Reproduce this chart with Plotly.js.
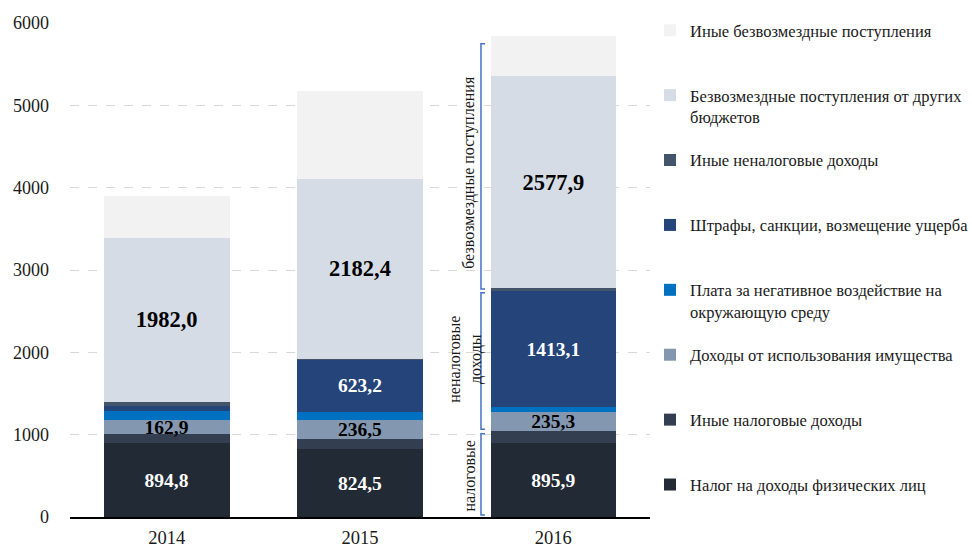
<!DOCTYPE html>
<html>
<head>
<meta charset="utf-8">
<script src="https://cdn.plot.ly/plotly-3.0.1.min.js"></script>
<style>html,body{margin:0;padding:0;background:#fff;}#chart{width:972px;height:552px;}</style>
</head>
<body>
<div id="chart"></div>
<script>
const years = ['2014', '2015', '2016'];
const ndfl = [894.8, 824.5, 895.9];
const otherTax = [115, 120, 145];
const propertyIncome = [162.9, 236.5, 235.3];
const envPayment = [120, 100, 55];
const fines = [50, 623.2, 1413.1];
const otherNonTax = [60, 20, 35];
const transfers = [1982.0, 2182.4, 2577.9];
const otherFree = [510, 1070, 485];

const names = [
  'Налог на доходы физических лиц',
  'Иные налоговые доходы',
  'Доходы от использования имущества',
  'Плата за негативное воздействие на<br>окружающую среду',
  'Штрафы, санкции, возмещение ущерба',
  'Иные неналоговые доходы',
  'Безвозмездные поступления от других<br>бюджетов',
  'Иные безвозмездные поступления'
];
const series = [ndfl, otherTax, propertyIncome, envPayment, fines, otherNonTax, transfers, otherFree];
const colors = ['#222a35', '#333f50', '#8497b0', '#0070c0', '#25447a', '#44546a', '#d6dce5', '#f2f2f2'];

const fmt = v => v.toFixed(1).replace('.', ',');
const labels = [
  ndfl.map(fmt),
  null,
  propertyIncome.map(fmt),
  null,
  fines.map(v => v > 300 ? fmt(v) : ''),
  null,
  transfers.map(fmt),
  null
];
const labelStyle = [
  {color: '#ffffff', size: 19.5},
  null,
  {color: '#000000', size: 19.5},
  null,
  {color: '#ffffff', size: 19.5},
  null,
  {color: '#000000', size: 22.5},
  null
];

const serif = '"Liberation Serif", "DejaVu Serif", serif';

const traces = series.map((vals, i) => {
  const isTwoLine = names[i].indexOf('<br>') >= 0;
  const t = {
    type: 'bar',
    x: years,
    y: vals,
    name: isTwoLine ? names[i] : names[i] + '<br> ',
    legendgroup: 'g' + i,
    legendrank: 100 - i,
    marker: {color: colors[i], line: {width: 0}},
    hoverinfo: 'skip'
  };
  if (labels[i]) {
    t.text = labels[i];
    t.textposition = 'inside';
    t.insidetextanchor = 'middle';
    t.constraintext = 'none';
    t.textangle = 0;
    t.textfont = {family: serif, size: labelStyle[i].size, color: labelStyle[i].color, weight: 'bold'};
  } else {
    t.textposition = 'none';
  }
  return t;
});

// bracket positions for the 2016 bar, derived from data
const k = 2;
const taxTop = ndfl[k] + otherTax[k];
const nonTaxTop = taxTop + propertyIncome[k] + envPayment[k] + fines[k] + otherNonTax[k];
const total = nonTaxTop + transfers[k] + otherFree[k];

const bx0 = 0.7086, bx1 = 0.7155;
function bracket(y0, y1) {
  return {
    type: 'path', xref: 'paper', yref: 'y',
    path: `M ${bx1},${y0} L ${bx0},${y0} L ${bx0},${y1} L ${bx1},${y1}`,
    line: {color: '#4472c4', width: 1.5}
  };
}

const annFont = {family: serif, size: 16, color: '#1a1a1a'};

const layout = {
  width: 972, height: 552,
  margin: {l: 70, r: 322, t: 23, b: 35},
  paper_bgcolor: '#ffffff', plot_bgcolor: '#ffffff',
  barmode: 'stack',
  bargap: 0.35,
  showlegend: true,
  font: {family: serif, color: '#1a1a1a'},
  xaxis: {
    type: 'category',
    showline: true, linecolor: '#000000', linewidth: 2,
    showgrid: false, ticks: '',
    tickfont: {family: serif, size: 18.5, color: '#1a1a1a'},
    ticklabelstandoff: 3
  },
  yaxis: {
    range: [0, 6000], dtick: 1000,
    showgrid: true, gridcolor: '#d9d9d9', griddash: 'dash', gridwidth: 1,
    zeroline: false, showline: false, ticks: '',
    tickfont: {family: serif, size: 18, color: '#1a1a1a'},
    ticklabelstandoff: 20
  },
  legend: {
    xref: 'container', yref: 'container',
    x: 650 / 972, y: 1 - 13 / 552, xanchor: 'left', yanchor: 'top',
    traceorder: 'grouped',
    tracegroupgap: 19,
    valign: 'top',
    maxheight: 545,
    font: {family: serif, size: 16.5, color: '#1a1a1a'},
    bgcolor: 'rgba(0,0,0,0)'
  },
  shapes: [
    bracket(25, taxTop - 30),
    bracket(taxTop + 25, nonTaxTop - 55),
    bracket(nonTaxTop - 10, total - 95)
  ],
  annotations: [
    {xref: 'paper', yref: 'y', x: 0.688, xanchor: 'center', yanchor: 'middle',
     y: (25 + taxTop) / 2 - 40, text: 'налоговые', textangle: -90,
     showarrow: false, font: annFont},
    {xref: 'paper', yref: 'y', x: 0.6828, xanchor: 'center', yanchor: 'middle',
     y: (taxTop + nonTaxTop) / 2, text: 'неналоговые<br>доходы', textangle: -90,
     showarrow: false, font: annFont},
    {xref: 'paper', yref: 'y', x: 0.688, xanchor: 'center', yanchor: 'middle',
     y: (nonTaxTop + total) / 2 - 130, text: 'безвозмездные поступления', textangle: -90,
     showarrow: false, font: annFont}
  ]
};

Plotly.newPlot('chart', traces, layout, {displayModeBar: false, staticPlot: true});
</script>
</body>
</html>
